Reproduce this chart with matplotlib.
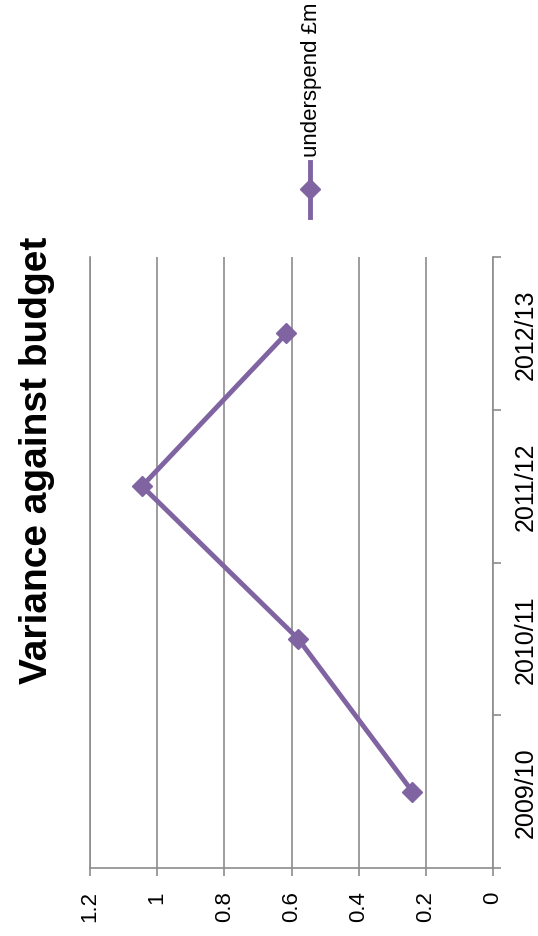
import matplotlib
matplotlib.use('Agg')
import matplotlib.pyplot as plt
from matplotlib import font_manager
from matplotlib.lines import Line2D

plt.rcParams['font.family'] = ['Liberation Sans', 'DejaVu Sans']
installed = {f.name for f in font_manager.fontManager.ttflist}
narrow = ['Liberation Sans Narrow'] if 'Liberation Sans Narrow' in installed else []
narrow_family = narrow + ['Liberation Sans', 'DejaVu Sans']
print('narrow available:', bool(narrow))

# Chart data (the reference is drawn rotated 90 degrees)
years = ['2009/10', '2010/11', '2011/12', '2012/13']
underspend = [0.24, 0.58, 1.045, 0.615]
value_ticks = [0, 0.2, 0.4, 0.6, 0.8, 1.0, 1.2]
value_labels = ['0', '0.2', '0.4', '0.6', '0.8', '1', '1.2']

purple = '#8064A2'
grey = '#8c8c8c'
W, H = 538, 937

fig = plt.figure(figsize=(W / 100, H / 100), dpi=100)
ax = fig.add_axes([90 / W, (H - 869) / H, (493 - 90) / W, (869 - 258) / H])

pos = list(range(len(years)))
ax.plot(underspend, pos, color=purple, lw=3.5, marker='D', ms=10.5,
        markeredgecolor=purple, zorder=3, clip_on=False)

# value axis runs along the bottom, 0 on the right
ax.set_xlim(1.2, 0)
ax.set_xticks(value_ticks)
ax.set_xticklabels(value_labels, rotation=90, fontsize=17.5 if narrow else 16,
                   family=narrow_family)
ax.grid(axis='x', color=grey, lw=1.2)

# category axis on the right, ticks between categories
ax.set_ylim(-0.5, len(years) - 0.5)
ax.yaxis.tick_right()
ax.set_yticks([i - 0.5 for i in range(len(years) + 1)])
ax.set_yticklabels([])
ax.set_yticks(pos, minor=True)
ax.set_yticklabels(years, minor=True, rotation=90, fontsize=18, va='center')
ax.tick_params(axis='y', which='minor', length=0, pad=15)
ax.tick_params(axis='y', which='major', length=6, width=1.2, color=grey)
ax.tick_params(axis='x', length=6, width=1.2, color=grey, pad=10)

ax.spines['top'].set_visible(False)
for side in ['left', 'right', 'bottom']:
    ax.spines[side].set_color(grey)
    ax.spines[side].set_linewidth(1.2)

fig.text(47 / W, 1 - 460 / H, 'Variance against budget', rotation=90,
         rotation_mode='anchor', fontsize=34 if narrow else 28,
         fontweight='bold', family=narrow_family, ha='center', va='baseline')

# legend drawn rotated like the rest of the chart
fig.add_artist(Line2D([310 / W, 310 / W], [1 - 163 / H, 1 - 218 / H],
                      color=purple, lw=3.5))
fig.add_artist(Line2D([310 / W], [1 - 190 / H], color=purple, marker='D',
                      ms=10.5, markeredgecolor=purple))
fig.text(312 / W, 1 - 157 / H, 'underspend £m', rotation=90,
         fontsize=19 if narrow else 16, family=narrow_family,
         ha='center', va='bottom')

fig.savefig('out.png', dpi=100)
